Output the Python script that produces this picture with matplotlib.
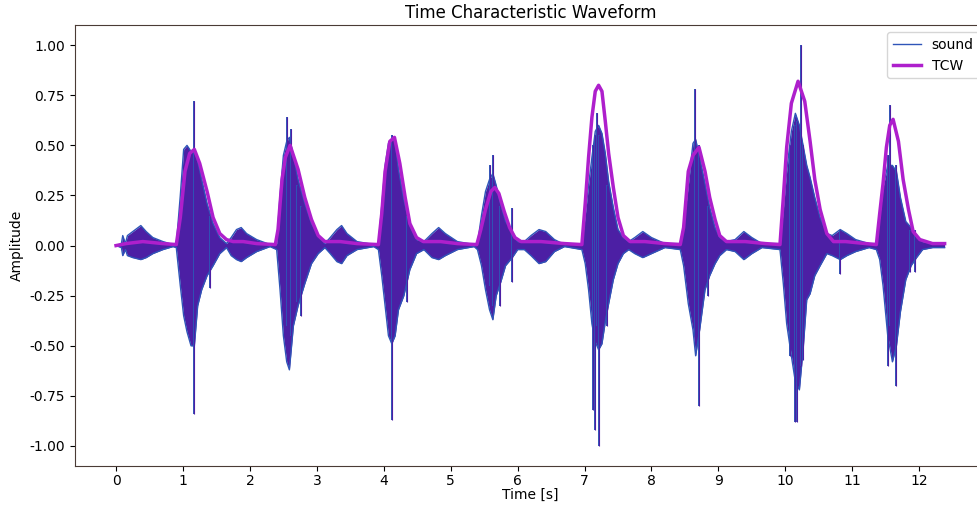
import numpy as np
import matplotlib
matplotlib.use("Agg")
import matplotlib.pyplot as plt

# sound envelope: time [s], upper and lower extent
env_t = [0.00, 0.08, 0.10, 0.14, 0.17, 0.25, 0.37, 0.45, 0.55, 0.70, 0.85,
         0.90, 0.96, 1.01, 1.06, 1.12, 1.17, 1.22, 1.28, 1.36, 1.45, 1.55, 1.65,
         1.72, 1.80, 1.87, 1.95, 2.10, 2.30,
         2.40, 2.45, 2.50, 2.55, 2.59, 2.65, 2.72, 2.82, 2.92, 3.02, 3.12,
         3.20, 3.30, 3.37, 3.45, 3.60, 3.85,
         3.92, 3.97, 4.02, 4.07, 4.12, 4.17, 4.22, 4.30, 4.39, 4.49,
         4.60, 4.72, 4.82, 4.92, 5.10, 5.35,
         5.40, 5.46, 5.52, 5.58, 5.63, 5.68, 5.75, 5.82, 5.92, 6.00,
         6.10, 6.20, 6.32, 6.42, 6.55, 6.70,
         6.96, 7.01, 7.06, 7.11, 7.16, 7.21, 7.26, 7.31, 7.36, 7.43, 7.50, 7.58,
         7.66, 7.75, 7.87, 8.00, 8.20,
         8.43, 8.48, 8.55, 8.62, 8.66, 8.72, 8.80, 8.87, 8.95, 9.02,
         9.12, 9.25, 9.38, 9.50, 9.65,
         9.92, 9.97, 10.02, 10.09, 10.15, 10.21, 10.27, 10.32, 10.37, 10.44, 10.52, 10.62,
         10.70, 10.82, 10.92, 11.05, 11.25,
         11.36, 11.41, 11.46, 11.53, 11.60, 11.66, 11.72, 11.80, 11.88, 11.96,
         12.05, 12.20, 12.38]
env_top = [0.0, 0.01, 0.05, 0.01, 0.05, 0.07, 0.10, 0.07, 0.04, 0.02, 0.005,
           0.005, 0.25, 0.48, 0.50, 0.47, 0.48, 0.42, 0.33, 0.21, 0.11, 0.04, 0.01,
           0.04, 0.08, 0.09, 0.06, 0.03, 0.005,
           0.01, 0.25, 0.45, 0.52, 0.54, 0.45, 0.33, 0.21, 0.11, 0.05, 0.01,
           0.04, 0.08, 0.10, 0.06, 0.02, 0.005,
           0.01, 0.20, 0.40, 0.51, 0.53, 0.52, 0.38, 0.23, 0.10, 0.03,
           0.02, 0.06, 0.09, 0.06, 0.02, 0.005,
           0.01, 0.15, 0.27, 0.33, 0.36, 0.30, 0.20, 0.12, 0.07, 0.02,
           0.02, 0.05, 0.08, 0.07, 0.03, 0.005,
           0.01, 0.15, 0.30, 0.44, 0.57, 0.60, 0.56, 0.46, 0.32, 0.19, 0.08, 0.04,
           0.02, 0.04, 0.07, 0.04, 0.01,
           0.01, 0.10, 0.30, 0.51, 0.53, 0.44, 0.31, 0.19, 0.09, 0.04,
           0.02, 0.03, 0.07, 0.04, 0.01,
           0.01, 0.18, 0.37, 0.57, 0.66, 0.60, 0.49, 0.40, 0.34, 0.24, 0.14, 0.06,
           0.05, 0.08, 0.06, 0.03, 0.01,
           0.01, 0.14, 0.29, 0.40, 0.40, 0.37, 0.24, 0.12, 0.09, 0.04,
           0.02, 0.01, 0.01]
env_bot = [0.0, -0.01, -0.05, -0.02, -0.05, -0.06, -0.07, -0.06, -0.04, -0.02, -0.005,
           -0.01, -0.20, -0.35, -0.43, -0.50, -0.50, -0.30, -0.22, -0.15, -0.10, -0.04, -0.01,
           -0.05, -0.07, -0.08, -0.06, -0.03, -0.005,
           -0.02, -0.22, -0.45, -0.58, -0.62, -0.40, -0.30, -0.19, -0.09, -0.04, -0.01,
           -0.04, -0.08, -0.09, -0.05, -0.02, -0.005,
           -0.02, -0.15, -0.30, -0.45, -0.49, -0.45, -0.32, -0.25, -0.12, -0.04,
           -0.02, -0.06, -0.07, -0.05, -0.02, -0.005,
           -0.02, -0.10, -0.22, -0.32, -0.37, -0.25, -0.18, -0.10, -0.06, -0.02,
           -0.02, -0.05, -0.09, -0.08, -0.03, -0.005,
           -0.02, -0.09, -0.22, -0.39, -0.48, -0.52, -0.49, -0.38, -0.29, -0.17, -0.09, -0.04,
           -0.02, -0.04, -0.06, -0.04, -0.01,
           -0.02, -0.10, -0.29, -0.42, -0.55, -0.42, -0.22, -0.15, -0.09, -0.05,
           -0.02, -0.03, -0.07, -0.04, -0.01,
           -0.02, -0.19, -0.39, -0.55, -0.68, -0.72, -0.50, -0.27, -0.24, -0.15, -0.10, -0.04,
           -0.05, -0.07, -0.05, -0.03, -0.01,
           -0.02, -0.07, -0.20, -0.45, -0.58, -0.50, -0.33, -0.17, -0.10, -0.06,
           -0.02, -0.01, -0.01]

# isolated sharp peaks of the sound: time, lowest, highest
spike_t = [1.17, 1.40, 2.56, 2.62, 2.70, 2.77, 4.13, 4.35, 5.58, 5.63, 5.74, 5.91,
           7.13, 7.16, 7.19, 7.22, 7.34, 8.65, 8.71, 8.85, 10.07, 10.14, 10.17,
           10.23, 10.27, 10.82, 11.54, 11.56, 11.65, 11.87, 11.93]
spike_lo = [-0.84, -0.21, -0.40, -0.45, -0.28, -0.35, -0.87, -0.28, -0.20, -0.30, -0.30, -0.18,
            -0.82, -0.92, -0.40, -1.00, -0.40, -0.45, -0.80, -0.25, -0.55, -0.88, -0.88,
            -0.60, -0.57, -0.14, -0.60, -0.40, -0.70, -0.13, -0.13]
spike_hi = [0.72, 0.15, 0.64, 0.58, 0.30, 0.20, 0.55, 0.15, 0.40, 0.45, 0.20, 0.19,
            0.50, 0.55, 0.66, 0.55, 0.30, 0.78, 0.50, 0.20, 0.50, 0.60, 0.62,
            1.00, 0.50, 0.08, 0.45, 0.70, 0.40, 0.08, 0.08]

# time characteristic waveform
tcw_t = [0.00, 0.15, 0.40, 0.70, 0.90, 0.96, 1.03, 1.10, 1.17, 1.25, 1.36, 1.45,
         1.55, 1.65, 1.75, 1.90, 2.10, 2.38, 2.42, 2.48, 2.53, 2.60, 2.72, 2.82,
         2.92, 3.02, 3.12, 3.35, 3.60, 3.92, 3.97, 4.02, 4.09, 4.16, 4.24, 4.32,
         4.39, 4.49, 4.59, 4.85, 5.10, 5.39, 5.45, 5.52, 5.60, 5.66, 5.72, 5.80,
         5.88, 5.96, 6.05, 6.35, 6.70, 6.96, 7.01, 7.06, 7.11, 7.16, 7.21, 7.26,
         7.31, 7.36, 7.43, 7.50, 7.58, 7.68, 7.90, 8.20, 8.43, 8.48, 8.55, 8.62,
         8.71, 8.80, 8.87, 8.95, 9.02, 9.12, 9.40, 9.70, 9.92, 9.97, 10.02, 10.09,
         10.19, 10.29, 10.37, 10.44, 10.52, 10.62, 10.72, 10.90, 11.20, 11.36,
         11.41, 11.46, 11.51, 11.56, 11.61, 11.69, 11.76, 11.84, 11.91, 12.01,
         12.20, 12.38]
tcw_v = [0.0, 0.01, 0.02, 0.01, 0.005, 0.14, 0.37, 0.46, 0.48, 0.41, 0.27, 0.14,
         0.06, 0.03, 0.02, 0.02, 0.01, 0.005, 0.08, 0.33, 0.44, 0.50, 0.38, 0.24,
         0.13, 0.05, 0.02, 0.02, 0.01, 0.005, 0.16, 0.37, 0.52, 0.54, 0.41, 0.24,
         0.11, 0.04, 0.02, 0.02, 0.01, 0.005, 0.08, 0.18, 0.27, 0.29, 0.26, 0.17,
         0.09, 0.04, 0.02, 0.02, 0.01, 0.005, 0.21, 0.44, 0.64, 0.77, 0.80, 0.77,
         0.62, 0.46, 0.29, 0.14, 0.05, 0.02, 0.02, 0.01, 0.005, 0.09, 0.37, 0.45,
         0.49, 0.37, 0.24, 0.13, 0.05, 0.02, 0.02, 0.01, 0.005, 0.24, 0.49, 0.71,
         0.82, 0.72, 0.52, 0.33, 0.18, 0.06, 0.02, 0.02, 0.01, 0.005,
         0.16, 0.31, 0.49, 0.60, 0.63, 0.52, 0.33, 0.18, 0.07, 0.03,
         0.01, 0.01]

sound_fill = '#4c1fa4'
sound_edge = '#2f55b8'
tcw_color = '#ae1fcc'

fig = plt.figure(figsize=(9.78, 5.05), dpi=100)
ax = fig.add_axes([0.0763, 0.0772, 0.932, 0.873])

ax.fill_between(env_t, env_bot, env_top, color=sound_fill, lw=0, zorder=2)
ax.plot(env_t, env_top, color=sound_edge, lw=1.0, zorder=2, label='sound')
ax.plot(env_t, env_bot, color=sound_edge, lw=1.0, zorder=2)
ax.vlines(spike_t, spike_lo, spike_hi, color=sound_edge, lw=1.4, zorder=2)
ax.vlines(spike_t, spike_lo, spike_hi, color=sound_fill, lw=0.8, zorder=2)
ax.plot(tcw_t, tcw_v, color=tcw_color, lw=2.5, zorder=3, label='TCW')

ax.set_xlim(-0.619, 13.0)
ax.set_ylim(-1.1, 1.1)
ax.set_xticks(range(0, 13))
ax.set_yticks([-1.0, -0.75, -0.5, -0.25, 0.0, 0.25, 0.5, 0.75, 1.0])
ax.yaxis.set_major_formatter(matplotlib.ticker.FormatStrFormatter('%.2f'))
ax.tick_params(labelsize=10)
ax.tick_params(axis='x', pad=2.5)
for s in ax.spines.values():
    s.set_color('#4a3b36')

ax.set_title('Time Characteristic Waveform', fontsize=12, pad=5)
ax.set_xlabel('Time [s]', fontsize=10, labelpad=0)
ax.set_ylabel('Amplitude', fontsize=10)
leg = ax.legend(loc='upper right', fontsize=10)

fig.savefig('out.png', dpi=100)
